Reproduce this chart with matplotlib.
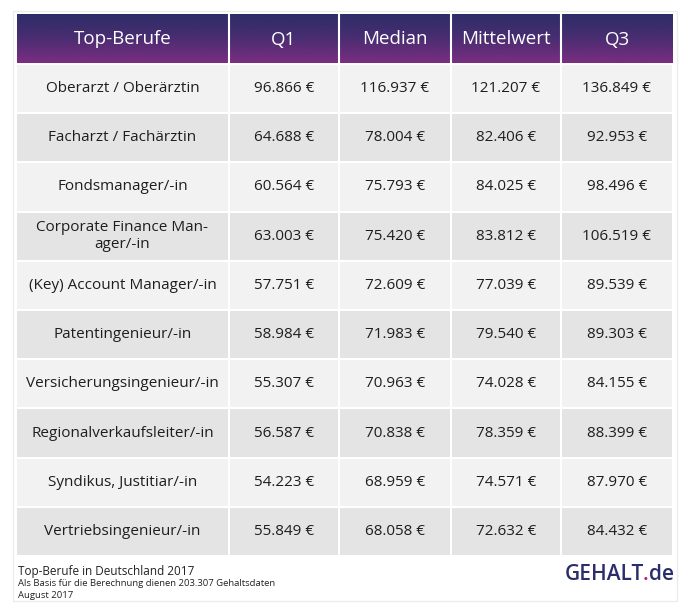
import numpy as np
import matplotlib.pyplot as plt
from matplotlib.patches import Rectangle
from matplotlib.colors import LinearSegmentedColormap
from matplotlib.font_manager import FontProperties

plt.rcParams['font.family'] = ['Open Sans', 'DejaVu Sans']

# table data
columns = ["Top-Berufe", "Q1", "Median", "Mittelwert", "Q3"]
berufe = ["Oberarzt / Oberärztin", "Facharzt / Fachärztin", "Fondsmanager/-in",
          "Corporate Finance Man-\nager/-in", "(Key) Account Manager/-in",
          "Patentingenieur/-in", "Versicherungsingenieur/-in",
          "Regionalverkaufsleiter/-in", "Syndikus, Justitiar/-in",
          "Vertriebsingenieur/-in"]
q1 = [96866, 64688, 60564, 63003, 57751, 58984, 55307, 56587, 54223, 55849]
median = [116937, 78004, 75793, 75420, 72609, 71983, 70963, 70838, 68959, 68058]
mittelwert = [121207, 82406, 84025, 83812, 77039, 79540, 74028, 78359, 74571, 72632]
q3 = [136849, 92953, 98496, 106519, 89539, 89303, 84155, 88399, 87970, 84432]

footer = ["Top-Berufe in Deutschland 2017",
          "Als Basis für die Berechnung dienen 203.307 Gehaltsdaten",
          "August 2017"]


def euro(v):
    return f"{v:,}".replace(",", ".") + " €"


W, H = 689, 616
fig = plt.figure(figsize=(W / 100, H / 100), dpi=100)
ax = fig.add_axes([0, 0, 1, 1])
ax.set_xlim(0, W)
ax.set_ylim(H, 0)
ax.axis("off")

# card background
ax.add_patch(Rectangle((13, 11), 664, 590, facecolor="white", edgecolor="#ececec", lw=1))

col_edges = [17, 229, 339, 451, 561, 673]
gap = 2
head_top, head_bot = 14, 63
row_top = 65
row_h = 49.2

# header gradient
grad = LinearSegmentedColormap.from_list("hdr", ["#2d2d68", "#4a2d72", "#7b2d80"])
ax.imshow(np.linspace(0, 1, 100).reshape(-1, 1), cmap=grad, aspect="auto",
          extent=(col_edges[0], col_edges[-1], head_bot, head_top), zorder=1)
for x in col_edges[1:-1]:
    ax.plot([x - 0.5, x - 0.5], [head_top, head_bot], color="white", lw=1.5, zorder=2)
for i, name in enumerate(columns):
    cx = (col_edges[i] + col_edges[i + 1]) / 2
    ax.text(cx, (head_top + head_bot) / 2 + 1, name, color="white", fontsize=13.5,
            ha="center", va="center", zorder=3)

# body rows
values = [q1, median, mittelwert, q3]
for r, beruf in enumerate(berufe):
    y0 = row_top + r * row_h
    fc = "#f2f2f2" if r % 2 == 0 else "#e4e4e4"
    cells = [beruf] + [euro(v[r]) for v in values]
    for c, txt in enumerate(cells):
        x0 = col_edges[c] + (1 if c > 0 else 0)
        x1 = col_edges[c + 1] - 1
        ax.add_patch(Rectangle((x0, y0), x1 - x0, row_h - gap, facecolor=fc, edgecolor="none"))
        ax.text((x0 + x1) / 2, y0 + (row_h - gap) / 2, txt, fontsize=11, color="#1e1e1e",
                ha="center", va="center", linespacing=1.2)

# footer
ax.text(18, 572, footer[0], fontsize=8.5, color="#222222", va="center")
ax.text(18, 584, footer[1], fontsize=6.8, color="#222222", va="center")
ax.text(18, 595, footer[2], fontsize=6.8, color="#222222", va="center")

# logo: measure prefixes so each piece ends where it would in the full word
renderer = fig.canvas.get_renderer()
fp = FontProperties(family=['Open Sans', 'DejaVu Sans'], weight="semibold", size=15)
scale = W / fig.bbox.width
lx, ly = 565, 575
prev = lx
for upto, part, col in [("GEHALT", "GEHALT", "#2b2e6a"), ("GEHALT.", ".", "#b0246e"),
                        ("GEHALT.de", "de", "#2b2e6a")]:
    w = renderer.get_text_width_height_descent(upto, fp, ismath=False)[0] * scale
    ax.text(lx + w, ly, part, color=col, ha="right", va="center", fontproperties=fp)

fig.savefig("out.png", dpi=100)
